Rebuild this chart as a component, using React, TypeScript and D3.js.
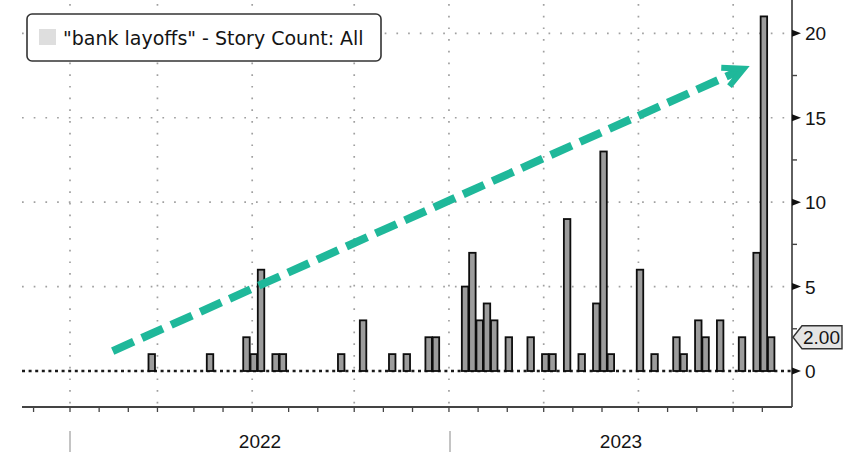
import React from "react";
import * as d3 from "d3";

// ---- data ----
const weekStarts = [
  "2022-03-17", "2022-05-12", "2022-06-16", "2022-06-23", "2022-06-30", "2022-07-14", "2022-07-21",
  "2022-09-15", "2022-10-06", "2022-11-03", "2022-11-17", "2022-12-08", "2022-12-15",
  "2023-01-12", "2023-01-19", "2023-01-26", "2023-02-02", "2023-02-09", "2023-02-23",
  "2023-03-16", "2023-03-30", "2023-04-06", "2023-04-20", "2023-05-04", "2023-05-18",
  "2023-05-25", "2023-06-01", "2023-06-29", "2023-07-13", "2023-08-03", "2023-08-10",
  "2023-08-24", "2023-08-31", "2023-09-14", "2023-10-05", "2023-10-19", "2023-10-26", "2023-11-02",
];
const storyCounts = [
  1, 1, 2, 1, 6, 1, 1,
  1, 3, 1, 1, 2, 2,
  5, 7, 3, 4, 3, 2,
  2, 1, 1, 9, 1, 4,
  13, 1, 6, 1, 2, 1,
  3, 2, 3, 2, 7, 21, 2,
];
const yMajorTicks = [0, 5, 10, 15, 20];
const yMinorTicks = [2.5, 7.5, 12.5, 17.5];
const yearLabels = [2022, 2023];
const lastValueLabel = "2.00";
const legendLabel = '"bank layoffs" - Story Count: All';
// trend arrow annotation (date, value)
const arrowStart = { date: "2022-02-11", value: 1.18 };
const arrowEnd = { date: "2023-10-10", value: 17.9 };

// ---- layout ----
const W = 848;
const H = 452;
const plotLeft = 22;
const plotRight = 792;
const plotTop = 0;
const plotBottom = 407;

const parse = d3.timeParse("%Y-%m-%d");
const x = d3
  .scaleTime()
  .domain([new Date(2022, 0, 1), new Date(2023, 0, 1)])
  .range([70, 450]);
const y = d3.scaleLinear().domain([0, 20]).range([371, 33.3]);

const NUM_FONT = "'Liberation Sans', Arial, sans-serif";
const LEG_FONT = "'DejaVu Sans', Verdana, sans-serif";
const TEAL = "#1fb89a";
const INK = "#141414";

export default function App() {
  const xStart = x.invert(plotLeft);
  const xEnd = x.invert(plotRight);
  const monthStarts = d3.timeMonth.range(xStart, xEnd);
  const monthTicks = monthStarts.map((m) => ({ m, t: d3.timeSaturday.floor(m) }));
  const quarterTicks = monthTicks.filter((d) => d.m.getMonth() % 3 === 0);

  const bars = weekStarts.map((s, i) => {
    const d0 = parse(s) as Date;
    const d1 = d3.timeDay.offset(d0, 7);
    return { x0: x(d0), x1: x(d1), v: storyCounts[i] };
  });

  const lastVal = storyCounts[storyCounts.length - 1];
  const tagY = y(lastVal);

  // arrow
  const ax0 = x(parse(arrowStart.date) as Date);
  const ay0 = y(arrowStart.value);
  const ax1 = x(parse(arrowEnd.date) as Date);
  const ay1 = y(arrowEnd.value);
  const len = Math.hypot(ax1 - ax0, ay1 - ay0);
  const ux = (ax1 - ax0) / len;
  const uy = (ay1 - ay0) / len;
  const nx = -uy;
  const ny = ux;
  const armBack = 20;
  const armSide = 10;
  const arm1 = [ax1 - armBack * ux + armSide * nx, ay1 - armBack * uy + armSide * ny];
  const arm2 = [ax1 - armBack * ux - armSide * nx, ay1 - armBack * uy - armSide * ny];
  const lineEnd = [ax1 - 6 * ux, ay1 - 6 * uy];

  return (
    <div style={{ position: "absolute", left: 0, top: 0 }}>
      <svg width={W} height={H} style={{ display: "block", background: "#fff" }}>
        {/* vertical quarterly gridlines */}
        {quarterTicks.map((d, i) => (
          <line
            key={"vg" + i}
            x1={x(d.t)}
            x2={x(d.t)}
            y1={plotTop + 4}
            y2={plotBottom}
            stroke="#a0a0a0"
            strokeWidth={1.7}
            strokeDasharray="1.7 10"
          />
        ))}
        {/* horizontal gridlines */}
        {yMajorTicks
          .filter((t) => t !== 0)
          .map((t) => (
            <line
              key={"hg" + t}
              x1={plotLeft}
              x2={plotRight}
              y1={y(t)}
              y2={y(t)}
              stroke="#a0a0a0"
              strokeWidth={1.7}
              strokeDasharray="1.7 10"
            />
          ))}
        {/* zero line */}
        <line
          x1={plotLeft}
          x2={plotRight}
          y1={y(0)}
          y2={y(0)}
          stroke="#1a1a1a"
          strokeWidth={2.3}
          strokeDasharray="3 3.6"
        />

        {/* bars */}
        {bars.map((b, i) => (
          <rect
            key={"b" + i}
            x={b.x0 + 0.4}
            y={y(b.v)}
            width={b.x1 - b.x0 - 0.8}
            height={y(0) - y(b.v)}
            fill="#9c9c9c"
            stroke="#0d0d0d"
            strokeWidth={1.8}
          />
        ))}

        {/* legend */}
        <rect x={27} y={14} width={354} height={47} rx={5} fill="#fff" stroke="#333" strokeWidth={1.6} />
        <rect x={39} y={29} width={17} height={16} fill="#dedede" />
        <text x={63} y={44.5} fontFamily={LEG_FONT} fontSize={19} fill={INK}>
          {legendLabel}
        </text>

        {/* trend arrow */}
        <line
          x1={ax0}
          y1={ay0}
          x2={lineEnd[0]}
          y2={lineEnd[1]}
          stroke={TEAL}
          strokeWidth={8}
          strokeDasharray="23 9"
        />
        <polyline
          points={`${arm1[0]},${arm1[1]} ${ax1},${ay1} ${arm2[0]},${arm2[1]}`}
          fill="none"
          stroke={TEAL}
          strokeWidth={6}
          strokeLinejoin="miter"
        />

        {/* y axis */}
        <line x1={plotRight} x2={plotRight} y1={plotTop} y2={plotBottom} stroke="#444" strokeWidth={1.7} />
        {yMajorTicks.map((t) => (
          <g key={"yt" + t}>
            <path d={`M${plotRight},${y(t) - 3.5} L${plotRight + 9},${y(t)} L${plotRight},${y(t) + 3.5} Z`} fill="#111" />
            <text x={plotRight + 13} y={y(t) + 7} fontFamily={NUM_FONT} fontSize={19} fill={INK}>
              {t}
            </text>
          </g>
        ))}
        {yMinorTicks.map((t) => (
          <line key={"ym" + t} x1={plotRight} x2={plotRight + 5} y1={y(t)} y2={y(t)} stroke="#444" strokeWidth={1.4} />
        ))}

        {/* last value tag */}
        <path
          d={`M${plotRight + 1},${tagY} L${plotRight + 10},${tagY - 11.5} L${W - 6},${tagY - 11.5} L${W - 6},${tagY + 11.5} L${plotRight + 10},${tagY + 11.5} Z`}
          fill="#e4e4e4"
          stroke="#333"
          strokeWidth={1.4}
        />
        <text x={plotRight + 11} y={tagY + 7} fontFamily={NUM_FONT} fontSize={19} fill={INK}>
          {lastValueLabel}
        </text>

        {/* x axis */}
        <line x1={plotLeft} x2={plotRight} y1={plotBottom} y2={plotBottom} stroke="#444" strokeWidth={2} />
        {monthTicks.map((d, i) => (
          <line
            key={"xt" + i}
            x1={x(d.t)}
            x2={x(d.t)}
            y1={plotBottom}
            y2={plotBottom + 5}
            stroke="#444"
            strokeWidth={1.3}
          />
        ))}
        {yearLabels.map((yr) => {
          const s = new Date(yr, 0, 1);
          const e = new Date(yr + 1, 0, 1);
          const xs = Math.max(x(s), plotLeft);
          const xe = Math.min(x(e), plotRight);
          return (
            <g key={"yr" + yr}>
              <line x1={x(s)} x2={x(s)} y1={431} y2={H} stroke="#b0b0b0" strokeWidth={1.5} />
              <text x={(xs + xe) / 2} y={448} textAnchor="middle" fontFamily={NUM_FONT} fontSize={19} fill={INK}>
                {yr}
              </text>
            </g>
          );
        })}
      </svg>
    </div>
  );
}
